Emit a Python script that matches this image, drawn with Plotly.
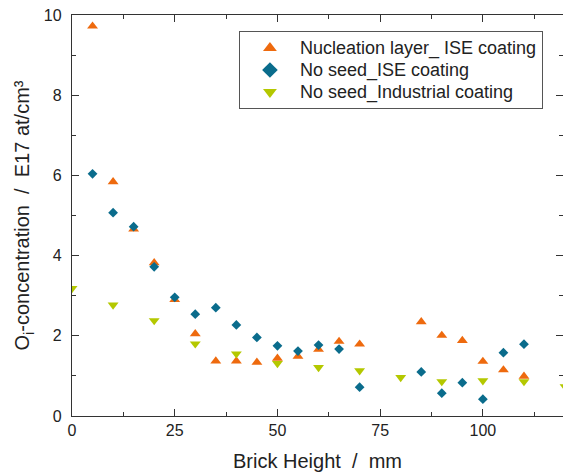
import plotly.graph_objects as go

# Nucleation layer_ ISE coating
x_nuc = [5, 10, 15, 20, 25, 30, 35, 40, 45, 50, 55, 60, 65, 70, 85, 90, 95, 100, 105, 110]
y_nuc = [9.72, 5.84, 4.66, 3.82, 2.90, 2.05, 1.37, 1.37, 1.34, 1.44, 1.49, 1.66, 1.86, 1.79, 2.35, 2.01, 1.88, 1.36, 1.15, 0.99]

# No seed_ISE coating
x_ise = [5, 10, 15, 20, 25, 30, 35, 40, 45, 50, 55, 60, 65, 70, 85, 90, 95, 100, 105, 110]
y_ise = [6.04, 5.07, 4.72, 3.72, 2.96, 2.54, 2.70, 2.27, 1.96, 1.75, 1.62, 1.77, 1.67, 0.72, 1.10, 0.57, 0.83, 0.42, 1.58, 1.79]

# No seed_Industrial coating
x_ind = [0, 10, 20, 30, 40, 50, 60, 70, 80, 90, 100, 110, 120]
y_ind = [3.18, 2.77, 2.38, 1.80, 1.55, 1.31, 1.21, 1.13, 0.96, 0.86, 0.88, 0.86, 0.73]

series_names = ["Nucleation layer_ ISE coating", "No seed_ISE coating", "No seed_Industrial coating"]

x_ticks = [0, 25, 50, 75, 100]
y_ticks = [0, 2, 4, 6, 8, 10]

c_nuc = "#EE6A0E"
c_ise = "#0A6C8C"
c_ind = "#B4C800"


def legend_label(s):
    return "<span style='font-size:18px'>" + s + "</span>"


fig = go.Figure()
fig.add_trace(go.Scatter(x=x_nuc, y=y_nuc, mode="markers", name=legend_label(series_names[0]),
                         marker=dict(symbol="triangle-up", size=9.5, color=c_nuc, line=dict(width=0))))
fig.add_trace(go.Scatter(x=x_ise, y=y_ise, mode="markers", name=legend_label(series_names[1]),
                         marker=dict(symbol="diamond", size=7.5, color=c_ise, line=dict(width=0))))
fig.add_trace(go.Scatter(x=x_ind, y=y_ind, mode="markers", name=legend_label(series_names[2]),
                         marker=dict(symbol="triangle-down", size=9.5, color=c_ind, line=dict(width=0))))

axis_common = dict(
    showline=True, linecolor="#333333", linewidth=1.3, mirror="allticks",
    ticks="inside", ticklen=7, tickwidth=1.2, tickcolor="#333333",
    showgrid=False, zeroline=False,
    tickfont=dict(family="Liberation Sans, Arial, sans-serif", size=16, color="#222222"),
)

fig.update_layout(
    width=563, height=474,
    margin=dict(l=72, r=0, t=15, b=58),
    paper_bgcolor="white", plot_bgcolor="white",
    font=dict(family="Liberation Sans, Arial, sans-serif", size=16, color="#222222"),
    xaxis=dict(range=[0, 119.5], tickvals=x_ticks, ticktext=[str(v) for v in x_ticks],
               minor=dict(dtick=12.5, tick0=0, ticks="inside", ticklen=4, tickwidth=1.2, tickcolor="#333333"),
               title=dict(text="Brick Height  /  mm", font=dict(size=20), standoff=15),
               **axis_common),
    yaxis=dict(range=[0, 10], tickvals=y_ticks, ticktext=[str(v) for v in y_ticks],
               minor=dict(dtick=1, tick0=0, ticks="inside", ticklen=4, tickwidth=1.2, tickcolor="#333333"),
               ticklabelstandoff=6,
               title=dict(text="O<sub>i</sub>-concentration  /  E17 at/cm³", font=dict(size=20), standoff=8),
               **axis_common),
    legend=dict(x=0.34, y=0.96, xanchor="left", yanchor="top",
                bgcolor="white", bordercolor="#555555", borderwidth=1,
                font=dict(size=14.6, color="#222222"), itemsizing="constant",
                itemwidth=50, tracegroupgap=0),
    showlegend=True,
)

fig.write_html("out.html")
